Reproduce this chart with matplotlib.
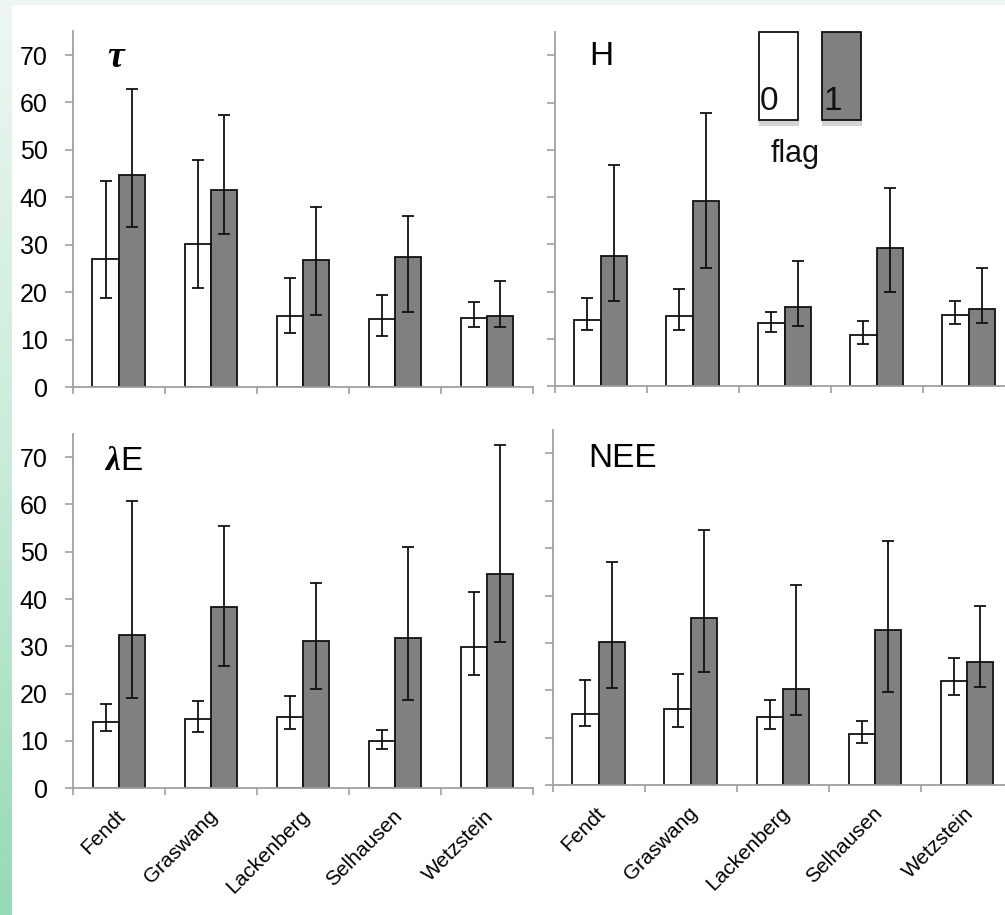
import matplotlib
matplotlib.use('Agg')
import matplotlib.pyplot as plt
import numpy as np
from matplotlib.patches import Rectangle
from matplotlib.colors import LinearSegmentedColormap
from matplotlib.transforms import ScaledTranslation

# ---------------- data ----------------
sites = ['Fendt', 'Graswang', 'Lackenberg', 'Selhausen', 'Wetzstein']

tau_0 = [27.0, 30.1, 15.0, 14.3, 14.5]
tau_0_lo = [18.9, 20.9, 11.4, 10.9, 12.6]
tau_0_hi = [43.5, 47.8, 23.0, 19.4, 17.9]
tau_1 = [44.7, 41.5, 26.8, 27.4, 15.0]
tau_1_lo = [33.7, 32.2, 15.2, 15.9, 12.8]
tau_1_hi = [62.8, 57.3, 38.0, 36.1, 22.3]

h_0 = [14.0, 14.9, 13.3, 10.7, 15.1]
h_0_lo = [11.8, 11.9, 11.4, 8.8, 13.2]
h_0_hi = [18.6, 20.6, 15.6, 13.8, 18.1]
h_1 = [27.5, 39.2, 16.7, 29.2, 16.3]
h_1_lo = [18.1, 25.0, 12.8, 20.0, 13.3]
h_1_hi = [46.9, 57.8, 26.5, 42.0, 24.9]

le_0 = [14.1, 14.7, 15.1, 9.9, 29.8]
le_0_lo = [12.1, 11.8, 12.6, 8.4, 24.0]
le_0_hi = [17.8, 18.5, 19.5, 12.3, 41.4]
le_1 = [32.5, 38.3, 31.1, 31.8, 45.2]
le_1_lo = [19.0, 25.9, 20.9, 18.7, 30.9]
le_1_hi = [60.7, 55.5, 43.3, 51.0, 72.6]

nee_0 = [15.1, 16.0, 14.3, 10.8, 22.0]
nee_0_lo = [12.4, 12.3, 11.9, 9.0, 19.0]
nee_0_hi = [22.3, 23.5, 18.0, 13.6, 26.9]
nee_1 = [30.3, 35.3, 20.2, 32.7, 25.9]
nee_1_lo = [20.6, 23.8, 14.8, 19.6, 20.8]
nee_1_hi = [47.0, 53.9, 42.2, 51.6, 37.9]

yticks = [0, 10, 20, 30, 40, 50, 60, 70]
flags = ['0', '1']

# ---------------- figure ----------------
W, H = 1005, 915
fig = plt.figure(figsize=(W / 100, H / 100), dpi=100, facecolor='#EEF6F2')


def px_rect(left, top, right, bottom):
    return [left / W, 1 - bottom / H, (right - left) / W, (bottom - top) / H]


# background: green strip on the left, white page
bg = fig.add_axes(px_rect(0, 0, 12, H), zorder=-3)
cmap = LinearSegmentedColormap.from_list('strip', ['#EEF7F2', '#C9ECDA', '#96DAB6'])
bg.imshow(np.linspace(0, 1, 256).reshape(-1, 1), aspect='auto', cmap=cmap)
bg.axis('off')
fig.add_artist(Rectangle((12 / W, 0), 1, 1 - 5 / H, transform=fig.transFigure,
                         facecolor='white', edgecolor='none', zorder=-2))

AX_COL = '#A0A0A0'
GRAY = '#808080'
BW = 0.285

panels = [
    (px_rect(72.7, 31.3, 533.1, 387.3), tau_0, tau_0_lo, tau_0_hi, tau_1, tau_1_lo, tau_1_hi, True, False),
    (px_rect(554.5, 31.8, 1014.5, 386.0), h_0, h_0_lo, h_0_hi, h_1, h_1_lo, h_1_hi, False, False),
    (px_rect(72.7, 433.5, 533.3, 788.3), le_0, le_0_lo, le_0_hi, le_1, le_1_lo, le_1_hi, True, True),
    (px_rect(552.5, 429.6, 1013.0, 785.3), nee_0, nee_0_lo, nee_0_hi, nee_1, nee_1_lo, nee_1_hi, False, True),
]

axes = []
x = np.arange(len(sites))
for rect, v0, lo0, hi0, v1, lo1, hi1, ylab, xlab in panels:
    ax = fig.add_axes(rect)
    ax.set_facecolor('none')
    v0, v1 = np.array(v0), np.array(v1)
    err0 = [v0 - np.array(lo0), np.array(hi0) - v0]
    err1 = [v1 - np.array(lo1), np.array(hi1) - v1]
    ekw = dict(ecolor='#111111', elinewidth=1.3, capsize=4.0, capthick=1.3)
    ax.bar(x - BW / 2, v0, BW, color='white', edgecolor='#111111', linewidth=1.3,
           yerr=err0, error_kw=ekw)
    ax.bar(x + BW / 2, v1, BW, color=GRAY, edgecolor='#111111', linewidth=1.3,
           yerr=err1, error_kw=ekw)
    ax.set_xlim(-0.5, 4.5)
    ax.set_ylim(0, 75)
    for s in ['top', 'right']:
        ax.spines[s].set_visible(False)
    for s in ['left', 'bottom']:
        ax.spines[s].set_color(AX_COL)
        ax.spines[s].set_linewidth(1.3)
    ax.set_yticks(yticks)
    ax.tick_params(axis='y', direction='out', length=6, width=1.2, color=AX_COL,
                   labelsize=18, pad=12, labelleft=ylab)
    ax.set_xticks(np.arange(-0.5, 5.0, 1.0))
    ax.set_xticklabels([])
    ax.tick_params(axis='x', which='major', direction='out', length=5, width=1.2, color=AX_COL)
    if xlab:
        ax.set_xticks(x, sites, minor=True)
        ax.tick_params(axis='x', which='minor', length=0, pad=13, labelsize=15)
        for lab in ax.get_xticklabels(minor=True):
            lab.set_rotation(45)
            lab.set_ha('right')
            lab.set_va('top')
            lab.set_rotation_mode('anchor')
            lab.set_transform(lab.get_transform() + ScaledTranslation(-2 / 72, 0, fig.dpi_scale_trans))
    axes.append(ax)

for ax in axes:
    for lab in ax.get_yticklabels():
        lab.set_fontfamily('Liberation Sans')
    for lab in ax.get_xticklabels(minor=True):
        lab.set_fontfamily('Liberation Sans')

# panel titles
axes[0].text(0.075, 0.9, 'τ', transform=axes[0].transAxes, fontsize=27,
             family='Liberation Serif', weight='bold', style='italic', va='baseline')
axes[1].text(0.075, 0.906, 'H', transform=axes[1].transAxes, fontsize=24,
             family='Liberation Sans', va='baseline')
lam = axes[2].text(0.07, 0.897, 'λ', transform=axes[2].transAxes, fontsize=24,
                   family='Liberation Serif', weight='bold', style='italic', va='baseline')
axes[2].annotate('E', xy=(1, 0), xycoords=lam, fontsize=24, family='Liberation Sans',
                 va='bottom', ha='left')
axes[3].text(0.077, 0.895, 'NEE', transform=axes[3].transAxes, fontsize=24,
             family='Liberation Sans', va='baseline')

# legend for the flag
for (l, r), face, lab in zip([(759, 798), (822, 861)], ['white', GRAY], flags):
    fig.add_artist(Rectangle((l / W, 1 - 126 / H), (r - l + 1) / W, 6 / H,
                             transform=fig.transFigure, facecolor='#D4D4D4', edgecolor='none'))
    fig.add_artist(Rectangle((l / W, 1 - 120 / H), (r - l) / W, 88 / H,
                             transform=fig.transFigure, facecolor=face, edgecolor='#111111',
                             linewidth=1.3))
    fig.text((l + 1) / W, 1 - 110 / H, lab, fontsize=24, family='Liberation Sans',
             ha='left', va='baseline', color='#111111')
fig.text(795 / W, 1 - 162 / H, 'flag', fontsize=22, family='Liberation Sans',
         ha='center', va='baseline', color='#111111')

fig.savefig('out.png', dpi=100, facecolor=fig.get_facecolor())
